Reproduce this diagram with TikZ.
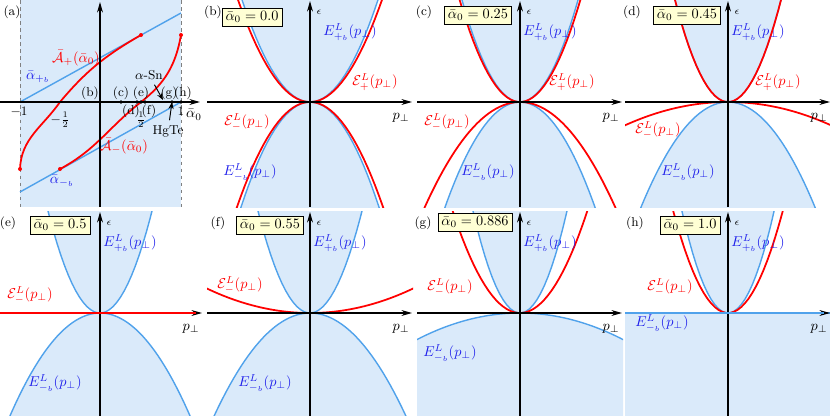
\documentclass[tikz,border=0pt]{standalone}
\usetikzlibrary{arrows.meta}
\definecolor{bandfill}{RGB}{218,234,250}
\definecolor{bandline}{RGB}{80,162,235}
\definecolor{lblue}{RGB}{30,30,235}
\definecolor{boxfill}{RGB}{255,255,212}
\tikzset{
  axis/.style={line width=0.9pt, -{Stealth[length=9pt,width=5pt]}},
  blueband/.style={bandline, line width=1.2pt},
  redband/.style={red, line width=1.5pt},
  alphabox/.style={draw, fill=boxfill, inner sep=2.5pt},
  panellabel/.style={font=\small},
}
% filled bands, k_up and k_low (eps = k p^2)
\newcommand\bands[2]{%
  \begin{scope}
    \clip (-103,-102) rectangle (103,105);
    \fill[bandfill] (-110,-120) -- plot[domain=-110:110,samples=60] (\x,{-(#1)*\x*\x}) -- (110,-120) -- cycle;
    \fill[bandfill] (-110,120) -- plot[domain=-110:110,samples=60] (\x,{(#2)*\x*\x}) -- (110,120) -- cycle;
    \draw[blueband] plot[domain=-110:110,samples=60] (\x,{-(#1)*\x*\x});
    \draw[blueband] plot[domain=-110:110,samples=60] (\x,{(#2)*\x*\x});
  \end{scope}}
\newcommand\redcurve[1]{%
  \begin{scope}
    \clip (-103,-102) rectangle (103,105);
    \draw[redband] plot[domain=-110:110,samples=60] (\x,{-(#1)*\x*\x});
  \end{scope}}
\newcommand\axes{%
  \draw[axis] (-103,0) -- (102,0);
  \draw[axis] (0,105) -- (0,-101);
  \node at (91,16) {$p_\perp$};
  \node at (9,-90) {\scriptsize$\epsilon$};}
\begin{document}
\begin{tikzpicture}[x=0.03cm, y=-0.03cm, every node/.append style={scale=1.22}]
  \useasboundingbox (0,0) rectangle (830,416);

  % panel (a)
  \fill[bandfill] (20,0) rectangle (181,207);
  \draw[gray, dashed, thick] (20,0) -- (20,207);
  \draw[gray, dashed, thick] (181,0) -- (181,207);
  \draw[blueband] (20,102) -- (181,13);
  \draw[blueband] (20,192) -- (181,102);
  \draw[redband] (20,169) to[out=88,in=235] (60,102) to[out=50,in=210] (141,35);
  \draw[redband] (60,169) to[out=28,in=218] (141,102) to[out=38,in=-100] (181,35);
  \foreach \p in {(141,35),(20,169),(60,169),(181,35)}
    \fill[red] \p circle (2);
  \draw[axis] (0,102) -- (200,102);
  \draw[axis] (100,207) -- (100,2);
  \foreach \q/\name in {100/b,121/c,137/d,141/e,145/f,172/g,181/h}
    \fill (\q,102) circle (1.8) coordinate (pt\name);
  \node[panellabel] (la) at (12,12) {(a)};
  \node[red] (Aplus) at (76,58) {$\bar{\mathcal{A}}_+(\bar\alpha_0)$};
  \node[red] (Aminus) at (124,146) {$\bar{\mathcal{A}}_-(\bar\alpha_0)$};
  \node[lblue] (apb) at (38,77) {$\bar\alpha_{+_b}$};
  \node[lblue] (amb) at (62,181) {$\bar\alpha_{-_b}$};
  \node[font=\small] (m1) at (19,112) {$-1$};
  \node[font=\small] (mh) at (60,120) {$-\frac{1}{2}$};
  \node[font=\small] (ph) at (141,120) {$\frac{1}{2}$};
  \node[font=\small] (p1) at (181,111) {$1$};
  \node (alab) at (194,115) {$\bar\alpha_0$};
  \node[panellabel] at (90,93) {(b)};
  \node[panellabel] at (121,93) {(c)};
  \node[panellabel] at (141,93) {(e)};
  \node[panellabel] at (131,111) {(d)};
  \node[panellabel] at (149,111) {(f)};
  \node[panellabel] at (169,93) {(g)};
  \node[panellabel] at (183,93) {(h)};
  \node[font=\small] (sn) at (149,75) {$\alpha$-Sn};
  \node[font=\small] (hg) at (168,131) {HgTe};
  \draw[thick, -{Stealth[length=6pt]}] (sn) -- (163,100);
  \draw[thick, -{Stealth[length=6pt]}] (hg) -- (ptg);

  % panel (b)
  \begin{scope}[shift={(310,102)}]
    \bands{0.0221}{0.0221}
    \redcurve{0.0197}
    \redcurve{-0.0197}
    \axes
    \node[alphabox] at (-58,-85) {$\bar\alpha_0=0.0$};
    \node[lblue] at (40,-70) {$E^L_{+_b}(p_\perp)$};
    \node[lblue] at (-60,70) {$E^L_{-_b}(p_\perp)$};
    \node[red] at (65,-20) {$\mathcal{E}^L_+(p_\perp)$};
    \node[red] at (-63,20) {$\mathcal{E}^L_-(p_\perp)$};
  \end{scope}
  \node[panellabel] at (213,12) {(b)};

  % panel (c)
  \begin{scope}[shift={(520,102)}]
    \bands{0.0303}{0.0187}
    \redcurve{0.028}
    \redcurve{-0.0116}
    \axes
    \node[alphabox] at (-42,-87) {$\bar\alpha_0=0.25$};
    \node[lblue] at (30,-70) {$E^L_{+_b}(p_\perp)$};
    \node[lblue] at (-32,70) {$E^L_{-_b}(p_\perp)$};
    \node[red] at (52,-20) {$\mathcal{E}^L_+(p_\perp)$};
    \node[red] at (-73,20) {$\mathcal{E}^L_-(p_\perp)$};
  \end{scope}
  \node[panellabel] at (424,12) {(c)};

  % panel (d)
  \begin{scope}[shift={(728,102)}]
    \bands{0.0363}{0.0139}
    \redcurve{0.0363}
    \redcurve{-0.0022}
    \axes
    \node[alphabox] at (-41,-87) {$\bar\alpha_0=0.45$};
    \node[lblue] at (30,-70) {$E^L_{+_b}(p_\perp)$};
    \node[lblue] at (-40,70) {$E^L_{-_b}(p_\perp)$};
    \node[red] at (50,-20) {$\mathcal{E}^L_+(p_\perp)$};
    \node[red] at (-70,28) {$\mathcal{E}^L_-(p_\perp)$};
  \end{scope}
  \node[panellabel] at (632,12) {(d)};

  % panel (e)
  \begin{scope}[shift={(100,313)}]
    \bands{0.0377}{0.0127}
    \axes
    \draw[redband] (-100,0) -- (96,0);
    \node[alphabox] at (-40,-88) {$\bar\alpha_0=0.5$};
    \node[lblue] at (30,-70) {$E^L_{+_b}(p_\perp)$};
    \node[lblue] at (-45,70) {$E^L_{-_b}(p_\perp)$};
    \node[red] at (-70,-18) {$\mathcal{E}^L_-(p_\perp)$};
  \end{scope}
  \node[panellabel] at (8,223) {(e)};

  % panel (f)
  \begin{scope}[shift={(310,313)}]
    \bands{0.0377}{0.0112}
    \redcurve{0.0023}
    \axes
    \node[alphabox] at (-40,-88) {$\bar\alpha_0=0.55$};
    \node[lblue] at (30,-70) {$E^L_{+_b}(p_\perp)$};
    \node[lblue] at (-45,70) {$E^L_{-_b}(p_\perp)$};
    \node[red] at (-70,-28) {$\mathcal{E}^L_-(p_\perp)$};
  \end{scope}
  \node[panellabel] at (218,223) {(f)};

  % panel (g)
  \begin{scope}[shift={(520,313)}]
    \bands{0.0462}{0.0025}
    \redcurve{0.0225}
    \axes
    \node[alphabox] at (-45,-91) {$\bar\alpha_0=0.886$};
    \node[lblue] at (30,-70) {$E^L_{+_b}(p_\perp)$};
    \node[lblue] at (-70,40) {$E^L_{-_b}(p_\perp)$};
    \node[red] at (-70,-26) {$\mathcal{E}^L_-(p_\perp)$};
  \end{scope}
  \node[panellabel] at (423,223) {(g)};

  % panel (h)
  \begin{scope}[shift={(728,313)}]
    \bands{0.048}{0}
    \redcurve{0.034}
    \axes
    \draw[blueband] (-103,0) -- (96,0);
    \node[alphabox] at (-38,-88) {$\bar\alpha_0=1.0$};
    \node[lblue] at (30,-70) {$E^L_{+_b}(p_\perp)$};
    \node[lblue] at (-66,10) {$E^L_{-_b}(p_\perp)$};
    \node[red] at (-58,-26) {$\mathcal{E}^L_-(p_\perp)$};
  \end{scope}
  \node[panellabel] at (635,223) {(h)};
\end{tikzpicture}
\end{document}
